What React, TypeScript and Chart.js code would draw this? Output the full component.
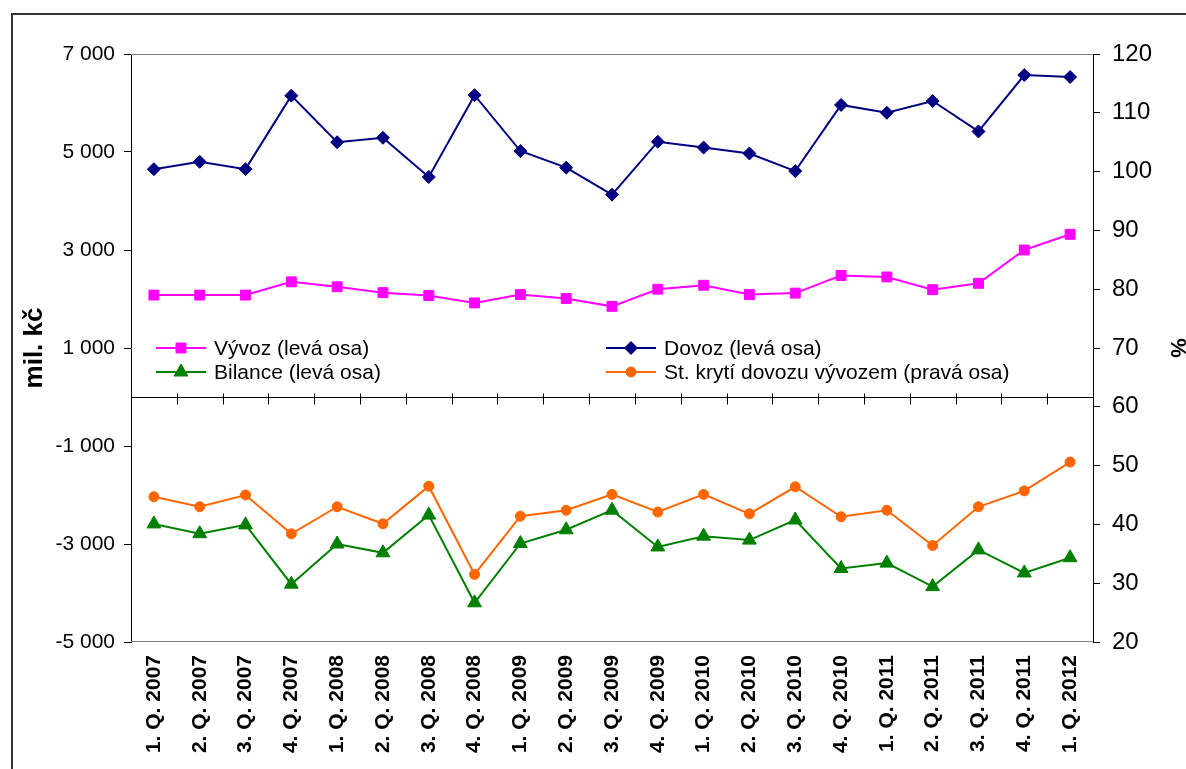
import React, { useEffect, useRef } from "react";
import { Chart, registerables } from "chart.js";
import { drawPoint } from "chart.js/helpers";

Chart.register(...registerables);

const FONT = '"Liberation Sans", Arial, Helvetica, sans-serif';

const categories = [
  "1. Q. 2007", "2. Q. 2007", "3. Q. 2007", "4. Q. 2007",
  "1. Q. 2008", "2. Q. 2008", "3. Q. 2008", "4. Q. 2008",
  "1. Q. 2009", "2. Q. 2009", "3. Q. 2009", "4. Q. 2009",
  "1. Q. 2010", "2. Q. 2010", "3. Q. 2010", "4. Q. 2010",
  "1. Q. 2011", "2. Q. 2011", "3. Q. 2011", "4. Q. 2011",
  "1. Q. 2012",
];

const vyvoz = [
  2080, 2080, 2080, 2350, 2250, 2130, 2070, 1920, 2090, 2010, 1850,
  2200, 2280, 2090, 2120, 2480, 2450, 2190, 2320, 3000, 3320,
];

const dovoz = [
  4650, 4800, 4650, 6150, 5200, 5290, 4490, 6160, 5020, 4680, 4130,
  5210, 5090, 4970, 4610, 5960, 5800, 6040, 5420, 6570, 6530,
];

const bilance = [
  -2590, -2790, -2610, -3820, -3000, -3180, -2410, -4200, -2990, -2710, -2310,
  -3060, -2840, -2920, -2510, -3500, -3390, -3870, -3120, -3590, -3280,
];

const kryti = [
  44.7, 43.0, 45.0, 38.4, 43.0, 40.1, 46.5, 31.5, 41.4, 42.4, 45.1,
  42.1, 45.1, 41.8, 46.4, 41.3, 42.4, 36.4, 43.0, 45.7, 50.6,
];

const seriesLabels = [
  "Vývoz (levá osa)",
  "Dovoz (levá osa)",
  "Bilance (levá osa)",
  "St. krytí dovozu vývozem (pravá osa)",
];

const leftAxis = [-5000, 7000, 2000];
const rightAxis = [20, 120, 10];

function fmt(v: number): string {
  const s = Math.abs(v).toString().replace(/\B(?=(\d{3})+(?!\d))/g, " ");
  return (v < 0 ? "-" : "") + s;
}

const decorPlugin = {
  id: "decor",
  beforeDatasetsDraw(chart: any) {
    const { ctx, chartArea: a, scales } = chart;
    const xs = scales.x;
    const ys = scales.y;
    ctx.save();
    ctx.lineWidth = 1;
    ctx.strokeStyle = "#808080";
    ctx.beginPath();
    ctx.moveTo(a.left, a.top + 0.5);
    ctx.lineTo(a.right, a.top + 0.5);
    ctx.moveTo(a.left, a.bottom - 0.5);
    ctx.lineTo(a.right, a.bottom - 0.5);
    ctx.stroke();

    const y0 = Math.round(ys.getPixelForValue(0)) + 0.5;
    ctx.strokeStyle = "#000";
    ctx.beginPath();
    ctx.moveTo(a.left, y0);
    ctx.lineTo(a.right, y0);
    for (let i = 1; i < categories.length; i++) {
      const px =
        Math.round((xs.getPixelForValue(i - 1) + xs.getPixelForValue(i)) / 2) + 0.5;
      ctx.moveTo(px, y0 - 4);
      ctx.lineTo(px, y0 + 7);
    }
    ctx.stroke();
    ctx.restore();
  },
  afterDatasetsDraw(chart: any) {
    const { ctx, chartArea: a } = chart;
    ctx.save();
    chart.data.datasets.forEach((ds: any, i: number) => {
      const col = i % 2;
      const row = Math.floor(i / 2);
      const lx = a.left + (col ? 475 : 25);
      const ly = a.top + (row ? 318 : 294);
      ctx.strokeStyle = ds.borderColor;
      ctx.fillStyle = ds.pointBackgroundColor;
      ctx.lineWidth = 2;
      ctx.beginPath();
      ctx.moveTo(lx, ly);
      ctx.lineTo(lx + 50, ly);
      ctx.stroke();
      ctx.lineWidth = 1;
      drawPoint(
        ctx,
        { pointStyle: ds.pointStyle, radius: ds.pointRadius, borderWidth: 1, rotation: 0 } as any,
        lx + 25,
        ly
      );
      ctx.fillStyle = "#000";
      ctx.font = `21px ${FONT}`;
      ctx.textBaseline = "middle";
      ctx.textAlign = "left";
      ctx.fillText(ds.label, lx + 58, ly + 1);
    });
    ctx.restore();
  },
};

export default function App() {
  const ref = useRef<HTMLCanvasElement>(null);

  useEffect(() => {
    const mk = (
      label: string,
      data: number[],
      color: string,
      style: string,
      radius: number,
      axis: string
    ) => ({
      label,
      data,
      borderColor: color,
      backgroundColor: color,
      pointBackgroundColor: color,
      pointBorderColor: color,
      pointBorderWidth: 1,
      pointStyle: style,
      pointRadius: radius,
      pointHoverRadius: radius,
      borderWidth: 2,
      tension: 0,
      fill: false,
      yAxisID: axis,
    });

    const chart = new Chart(ref.current as HTMLCanvasElement, {
      type: "line",
      data: {
        labels: categories,
        datasets: [
          mk(seriesLabels[0], vyvoz, "#FF00FF", "rect", 7, "y"),
          mk(seriesLabels[1], dovoz, "#000080", "rectRot", 6.5, "y"),
          mk(seriesLabels[2], bilance, "#008000", "triangle", 8, "y"),
          mk(seriesLabels[3], kryti, "#FF6600", "circle", 5, "y1"),
        ] as any,
      },
      options: {
        animation: false,
        responsive: true,
        maintainAspectRatio: false,
        layout: { padding: { top: 54, left: 0, right: 0, bottom: 0 } },
        plugins: {
          legend: { display: false },
          tooltip: { enabled: false },
        },
        scales: {
          x: {
            type: "category",
            offset: true,
            position: "bottom",
            grid: { display: false },
            border: { display: false },
            ticks: {
              autoSkip: false,
              maxRotation: 90,
              minRotation: 90,
              padding: 5,
              color: "#000",
              font: { family: FONT, size: 21, weight: "bold" },
            },
            afterFit: (s: any) => {
              s.height = 127;
            },
          },
          y: {
            position: "left",
            min: leftAxis[0],
            max: leftAxis[1],
            ticks: {
              stepSize: leftAxis[2],
              padding: 9,
              color: "#000",
              font: { family: FONT, size: 21 },
              callback: (v: any) => fmt(Number(v)),
            },
            grid: { drawOnChartArea: false, color: "#000", tickLength: 7 },
            border: { color: "#000", width: 1 },
            title: {
              display: true,
              text: "mil. kč",
              color: "#000",
              font: { family: FONT, size: 26, weight: "bold", lineHeight: 1.2 },
              padding: { top: 19, bottom: 0 },
            },
            afterFit: (s: any) => {
              s.width = 131;
            },
          },
          y1: {
            position: "right",
            min: rightAxis[0],
            max: rightAxis[1],
            ticks: {
              stepSize: rightAxis[2],
              padding: 12,
              color: "#000",
              font: { family: FONT, size: 24 },
            },
            grid: { drawOnChartArea: false, color: "#000", tickLength: 7 },
            border: { color: "#000", width: 1 },
            title: {
              display: true,
              text: "%",
              color: "#000",
              font: { family: FONT, size: 22, weight: "bold", lineHeight: 0.8 },
              padding: { top: 0, bottom: 0 },
            },
            afterFit: (s: any) => {
              s.width = 93;
            },
          },
        },
      } as any,
      plugins: [decorPlugin],
    });
    return () => chart.destroy();
  }, []);

  return (
    <div
      style={{
        position: "fixed",
        left: 0,
        top: 0,
        width: 1186,
        height: 769,
        overflow: "hidden",
        background: "#fff",
      }}
    >
      <div
        style={{
          position: "absolute",
          left: 11,
          top: 13,
          width: 1300,
          height: 900,
          border: "2px solid #333",
          boxSizing: "border-box",
        }}
      />
      <div style={{ position: "absolute", left: 0, top: 0, width: 1186, height: 769 }}>
        <canvas ref={ref} />
      </div>
    </div>
  );
}
